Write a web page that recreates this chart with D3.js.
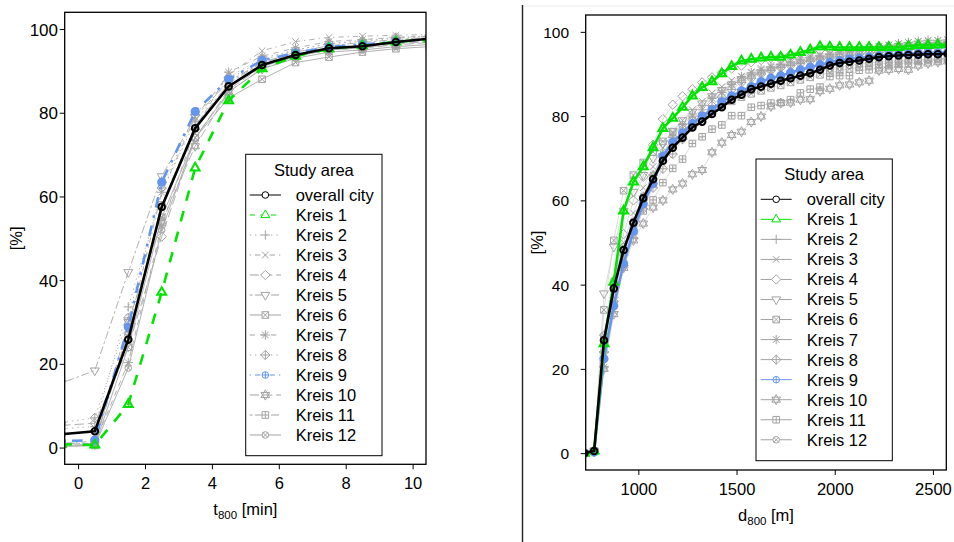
<!DOCTYPE html>
<html>
<head>
<meta charset="utf-8">
<script src="https://cdn.jsdelivr.net/npm/d3@7"></script>
<style>
  body { margin: 0; background: #fff; }
  svg { display: block; font-family: "Liberation Sans", Arial, Helvetica, sans-serif; }
</style>
</head>
<body>
<svg id="chart" width="954" height="542"></svg>
<script>
// ---- Series names (legend order) ----
const seriesNames = ["overall city", "Kreis 1", "Kreis 2", "Kreis 3", "Kreis 4", "Kreis 5",
  "Kreis 6", "Kreis 7", "Kreis 8", "Kreis 9", "Kreis 10", "Kreis 11", "Kreis 12"];

// ---- Left panel: share [%] by travel time t800 [min] ----
const travelTimes = [-0.5, 0.5, 1.5, 2.5, 3.5, 4.5, 5.5, 6.5, 7.5, 8.5, 9.5, 10.5];
const timeOverall = [3.2, 3.9, 25.8, 57.5, 76.3, 86.3, 91.4, 93.8, 95.4, 95.9, 96.9, 97.7];
const timeKreis1  = [0.8, 0.6, 10.3, 37.1, 66.8, 82.9, 90.5, 93.5, 95.3, 96.0, 96.9, 97.6];
const timeKreis2  = [4.5, 5.0, 33.6, 61.0, 78.0, 88.0, 92.5, 95.0, 96.5, 97.3, 98.0, 98.3];
const timeKreis3  = [1.0, 1.5, 28.0, 61.0, 79.0, 89.0, 94.8, 97.0, 98.0, 98.3, 98.5, 98.7];
const timeKreis4  = [5.3, 5.8, 24.0, 50.4, 74.0, 85.5, 91.0, 93.5, 95.0, 95.5, 96.5, 97.0];
const timeKreis5  = [15.4, 18.4, 41.9, 64.8, 79.0, 87.5, 92.0, 94.5, 96.0, 96.8, 97.5, 98.0];
const timeKreis6  = [0.3, 0.5, 24.0, 55.0, 74.0, 83.5, 88.0, 92.0, 93.3, 94.5, 95.3, 95.8];
const timeKreis7  = [0.8, 1.0, 20.3, 53.0, 76.0, 89.7, 93.5, 95.5, 97.0, 97.5, 98.0, 98.3];
const timeKreis8  = [6.0, 7.1, 31.0, 62.0, 79.5, 88.5, 93.0, 95.0, 96.5, 97.0, 97.8, 98.2];
const timeKreis9  = [1.5, 1.8, 28.8, 63.4, 80.3, 88.0, 92.5, 94.3, 95.7, 96.3, 97.0, 97.5];
const timeKreis10 = [0.5, 0.8, 30.0, 54.0, 72.0, 85.0, 90.5, 93.5, 95.0, 95.5, 96.2, 96.8];
const timeKreis11 = [1.0, 1.0, 27.0, 58.0, 77.0, 87.0, 92.0, 94.0, 95.3, 96.0, 96.8, 97.3];
const timeKreis12 = [0.3, 0.5, 19.0, 52.0, 74.0, 85.0, 90.5, 93.0, 94.5, 95.0, 95.8, 96.3];

// ---- Right panel: share [%] by distance d800 [m] ----
const distances = [725, 775, 825, 875, 925, 975, 1025, 1075, 1125, 1175, 1225, 1275, 1325,
  1375, 1425, 1475, 1525, 1575, 1625, 1675, 1725, 1775, 1825, 1875, 1925, 1975, 2025,
  2075, 2125, 2175, 2225, 2275, 2325, 2375, 2425, 2475, 2525, 2575];
const distOverall = [0, 0.5, 26.8, 39.1, 48.2, 54.7, 60.5, 65.0, 69.4, 72.5, 74.9, 77.3, 78.7,
  80.5, 82.1, 83.9, 85.1, 86.4, 87.0, 87.7, 88.4, 89.0, 89.6, 90.2, 91.0, 92.0, 92.6,
  92.9, 93.2, 93.6, 94.0, 94.2, 94.4, 94.5, 94.6, 94.7, 94.7, 94.8];
const distKreis1 = [0, 0.5, 26.0, 40.6, 57.5, 64.4, 68.0, 72.5, 77.1, 79.5, 82.1, 84.8, 86.8,
  88.2, 90.1, 91.8, 93.1, 93.5, 93.8, 94.0, 94.0, 94.5, 95.1, 95.7, 96.5, 96.4, 96.3,
  96.3, 96.3, 96.3, 96.3, 96.3, 96.3, 96.6, 96.8, 96.8, 96.9, 97.0];
const distKreis2 = [0, 0.4, 24, 37, 47, 55, 61, 66, 71, 75, 78, 80.5, 82.5,
  84.5, 86, 87.5, 88.5, 89.5, 90.3, 91, 91.7, 92.3, 92.8, 93.3, 93.8, 94.2, 94.6,
  95, 95.3, 95.6, 95.9, 96.2, 96.5, 96.8, 97, 97.2, 97.3, 97.4];
const distKreis3 = [0, 0.5, 27, 40, 50, 57, 63, 68, 72.5, 76, 79, 81.5, 83.5,
  85.5, 87, 88.5, 89.5, 90.5, 91.3, 92, 92.6, 93.2, 93.7, 94.2, 94.6, 95, 95.3,
  95.6, 95.9, 96.2, 96.6, 96.9, 97.2, 97.5, 97.7, 97.8, 97.9, 98];
const distKreis4 = [0, 0.5, 28, 40, 52, 60, 65.6, 73.2, 79.3, 82.7, 84.7, 86.4, 88,
  89.2, 90.3, 91.3, 92, 92.8, 93.3, 93.8, 94.2, 94.6, 95, 95.3, 95.6, 95.8, 96,
  96.2, 96.3, 96.4, 96.5, 96.6, 96.7, 96.8, 96.9, 97, 97, 97.1];
const distKreis5 = [0, 0.5, 37.9, 49, 57.5, 62, 66, 70, 73.5, 76.5, 79, 81, 83,
  84.7, 86.2, 87.5, 88.5, 89.4, 90.2, 91, 91.7, 92.3, 92.9, 93.4, 93.8, 94.2, 94.6,
  95, 95.3, 95.6, 95.9, 96.1, 96.3, 96.5, 96.7, 96.9, 97, 97.1];
const distKreis6 = [0, 0.5, 34, 50.5, 62.3, 66, 69, 71.5, 74, 76.2, 77.5, 79, 80,
  81.5, 82.5, 83.5, 84.5, 85.3, 86, 86.7, 87.3, 88, 88.6, 89.2, 89.8, 90.3, 90.8,
  91.2, 91.6, 92, 92.3, 92.6, 92.9, 93.1, 93.3, 93.5, 93.6, 93.7];
const distKreis7 = [0, 0.3, 20.4, 33.6, 44, 52, 60, 66, 71, 75, 78, 80, 81.5,
  84.2, 85.6, 87.6, 89.4, 90.3, 91, 91.7, 92.3, 92.8, 93.3, 93.8, 94.2, 94.6, 95,
  95.3, 95.6, 96, 96.4, 96.8, 97.2, 97.5, 97.8, 98, 98, 98.1];
const distKreis8 = [0, 0.5, 24, 36, 44.5, 51, 58, 63, 67.5, 71, 74.5, 77.5, 80,
  82.5, 84.5, 86.3, 88, 89, 90, 90.8, 91.5, 92, 92.5, 93, 93.4, 93.8, 94.1,
  94.4, 94.7, 95, 95.2, 95.4, 95.6, 95.8, 96, 96.1, 96.2, 96.3];
const distKreis9 = [0, 0.3, 22.4, 35, 45, 52.7, 59.2, 64, 70.5, 73.8, 76, 78.2, 80,
  81.5, 83.4, 84.8, 86, 87, 88.2, 89, 89.6, 90.3, 91.0, 91.6, 92.2, 92.8, 93.2,
  93.6, 93.8, 94.0, 94.3, 94.5, 94.7, 94.8, 94.9, 95.0, 95.0, 95.1];
const distKreis10 = [0, 0.3, 20, 33, 44, 50.5, 54.5, 58.3, 60, 62.6, 64, 66.2, 67.2,
  71.4, 73.7, 75.5, 76.3, 78.6, 79.9, 82.3, 83.1, 83.2, 83.9, 84, 85.9, 86.5, 87.3,
  87.5, 88, 88.4, 90.8, 91, 91.2, 91, 92, 92.5, 92.8, 93];
const distKreis11 = [0, 0.5, 27, 39, 47.5, 53, 57.5, 60.1, 64.2, 67.6, 69.8, 73.5, 75.1,
  76.9, 77.9, 80.1, 80.1, 82.1, 82.5, 83.1, 83.2, 83.9, 85.5, 86.4, 86.9, 89.4, 89.6,
  89.6, 90.9, 91, 91.5, 92, 92.3, 92.6, 93, 93.2, 93.4, 93.5];
const distKreis12 = [0, 0.5, 28, 41, 49, 55, 61, 66, 70, 73, 75.5, 77.5, 79.5,
  81, 82.5, 84, 85, 86, 87, 87.8, 88.5, 89.2, 89.8, 90.3, 90.8, 91.2, 91.6,
  92, 92.3, 92.6, 92.8, 93, 93.2, 93.3, 93.4, 93.5, 93.6, 93.7];

// ---- Axis ticks ----
const timeTicks = [0, 2, 4, 6, 8, 10];
const distTicks = [1000, 1500, 2000, 2500];
const shareTicks = [0, 20, 40, 60, 80, 100];

const timeValues = [timeOverall, timeKreis1, timeKreis2, timeKreis3, timeKreis4, timeKreis5,
  timeKreis6, timeKreis7, timeKreis8, timeKreis9, timeKreis10, timeKreis11, timeKreis12];
const distValues = [distOverall, distKreis1, distKreis2, distKreis3, distKreis4, distKreis5,
  distKreis6, distKreis7, distKreis8, distKreis9, distKreis10, distKreis11, distKreis12];

// ---- Styling (R-like: pch 1..13, lty 1..6 cycling) ----
const GRAY = "#a3a3a3", GREEN = "#00e400", BLUE = "#6495ED", BLACK = "#000";
const colorOf = i => i === 0 ? BLACK : i === 1 ? GREEN : i === 9 ? BLUE : GRAY;
const isHeavy = i => i === 0 || i === 1 || i === 9;
const ltyPattern = [null, [4, 4], [1, 3], [1, 3, 4, 3], [7, 3], [2, 2, 6, 2]];

function dashFor(i, width) {
  const p = ltyPattern[i % 6];
  if (!p) return null;
  const k = Math.max(width, 1) * 1.33;
  return p.map(v => (v * k).toFixed(2)).join(",");
}

// Plotting symbols following R's pch 1..13
function pchPath(pch, r) {
  const circ = a => `M${-a},0A${a},${a} 0 1,1 ${a},0A${a},${a} 0 1,1 ${-a},0Z`;
  const plus = a => `M${-a},0H${a}M0,${-a}V${a}`;
  const cross = a => `M${-a},${-a}L${a},${a}M${-a},${a}L${a},${-a}`;
  const sq = a => `M${-a},${-a}H${a}V${a}H${-a}Z`;
  const dia = a => `M0,${-a}L${a},0L0,${a}L${-a},0Z`;
  const triUp = a => `M0,${-1.555 * a}L${1.347 * a},${0.778 * a}L${-1.347 * a},${0.778 * a}Z`;
  const triDn = a => `M0,${1.555 * a}L${1.347 * a},${-0.778 * a}L${-1.347 * a},${-0.778 * a}Z`;
  switch (pch) {
    case 1: return circ(r);
    case 2: return triUp(r);
    case 3: return plus(r * 1.414);
    case 4: return cross(r);
    case 5: return dia(r * 1.414);
    case 6: return triDn(r);
    case 7: return sq(r) + cross(r);
    case 8: return plus(r * 1.414) + cross(r);
    case 9: return dia(r * 1.414) + plus(r * 1.414);
    case 10: return circ(r) + plus(r);
    case 11: {
      const a = r * 1.1;
      return `M0,${-1.4 * a}L${1.2 * a},${0.7 * a}L${-1.2 * a},${0.7 * a}Z` +
             `M0,${1.4 * a}L${1.2 * a},${-0.7 * a}L${-1.2 * a},${-0.7 * a}Z`;
    }
    case 12: return sq(r) + plus(r);
    case 13: return circ(r) + cross(r * 0.75);
  }
}

const svg = d3.select("#chart");
svg.append("rect").attr("width", 954).attr("height", 542).attr("fill", "#fff");

// panel divider
svg.append("line").attr("x1", 523).attr("x2", 954).attr("y1", 6).attr("y2", 6)
  .attr("stroke", "#ececec").attr("stroke-width", 1);
svg.append("line").attr("x1", 522.5).attr("x2", 522.5).attr("y1", 5).attr("y2", 542)
  .attr("stroke", "#222").attr("stroke-width", 1.4);

function drawPanel(cfg) {
  const g = svg.append("g");
  const x = d3.scaleLinear().domain(cfg.xDomain).range([cfg.left, cfg.right]);
  const y = d3.scaleLinear().domain([-4, 104]).range([cfg.bottom, cfg.top]);

  const clipId = "clip-" + cfg.id;
  svg.append("clipPath").attr("id", clipId).append("rect")
    .attr("x", cfg.left).attr("y", cfg.top)
    .attr("width", cfg.right - cfg.left).attr("height", cfg.bottom - cfg.top);

  const plot = g.append("g").attr("clip-path", `url(#${clipId})`);
  const line = d3.line().x(d => x(d[0])).y(d => y(d[1]));

  // grays first, then blue, green, black on top
  const order = [2, 3, 4, 5, 6, 7, 8, 10, 11, 12, 9, 1, 0];
  order.forEach(i => {
    const pts = cfg.xs.map((xv, k) => [xv, cfg.values[i][k]]);
    const lw = isHeavy(i) ? 2.6 : cfg.grayLine.width;
    const sg = plot.append("g");
    sg.append("path").datum(pts)
      .attr("d", line)
      .attr("fill", "none")
      .attr("stroke", isHeavy(i) ? colorOf(i) : cfg.grayLine.color)
      .attr("stroke-width", lw)
      .attr("stroke-dasharray", cfg.dashed ? dashFor(i, isHeavy(i) ? 2 : 1) : null);
    const mw = i === 9 ? 2.6 : (isHeavy(i) ? 2 : 1);
    sg.selectAll("path.pt").data(pts).join("path")
      .attr("class", "pt")
      .attr("transform", d => `translate(${x(d[0])},${y(d[1])})`)
      .attr("d", pchPath(i + 1, 3.3))
      .attr("fill", "none")
      .attr("stroke", colorOf(i))
      .attr("stroke-width", mw);
  });

  // axes
  const xAxis = g.append("g").attr("transform", `translate(0,${cfg.bottom})`)
    .call(d3.axisBottom(x).tickValues(cfg.xTicks).tickSize(5).tickFormat(d3.format("d")));
  xAxis.select(".domain").remove();
  xAxis.selectAll("line").attr("stroke", "#000");
  xAxis.selectAll("text").attr("y", cfg.xLabelY).attr("dy", 0)
    .attr("font-size", 16.5).attr("fill", "#000").attr("font-family", null);

  const yAxis = g.append("g").attr("transform", `translate(${cfg.left},0)`)
    .call(d3.axisLeft(y).tickValues(shareTicks).tickSize(5).tickFormat(d3.format("d")));
  yAxis.select(".domain").remove();
  yAxis.selectAll("line").attr("stroke", "#000");
  yAxis.selectAll("text").attr("x", cfg.yLabelX - cfg.left).attr("dy", "0.36em")
    .attr("font-size", cfg.yLabelSize).attr("fill", "#000").attr("font-family", null);

  // frame
  g.append("rect").attr("x", cfg.left).attr("y", cfg.top)
    .attr("width", cfg.right - cfg.left).attr("height", cfg.bottom - cfg.top)
    .attr("fill", "none").attr("stroke", "#000").attr("stroke-width", 1.3);

  // axis titles
  const xt = g.append("text").attr("x", (cfg.left + cfg.right) / 2).attr("y", cfg.xTitleY)
    .attr("text-anchor", "middle").attr("font-size", 16.5);
  xt.append("tspan").text(cfg.xVar);
  xt.append("tspan").attr("font-size", 11.5).attr("dy", 4).text("800");
  xt.append("tspan").attr("dy", -4).text(" " + cfg.xUnit);

  g.append("text")
    .attr("transform", `translate(${cfg.yTitleX},${(cfg.top + cfg.bottom) / 2}) rotate(-90)`)
    .attr("text-anchor", "middle").attr("font-size", 16.5).text("[%]");

  // legend
  const L = cfg.legend;
  const lg = g.append("g");
  lg.append("rect").attr("x", L.x0).attr("y", L.y0).attr("width", L.x1 - L.x0)
    .attr("height", L.y1 - L.y0).attr("fill", "#fff").attr("stroke", "#000").attr("stroke-width", 1);
  lg.append("text").attr("x", (L.x0 + L.x1) / 2).attr("y", L.titleY).attr("dy", "0.36em")
    .attr("text-anchor", "middle").attr("font-size", 16.5).text("Study area");
  seriesNames.forEach((name, i) => {
    const yy = L.rowY + i * L.step;
    lg.append("line").attr("x1", L.lineX0).attr("x2", L.lineX1).attr("y1", yy).attr("y2", yy)
      .attr("stroke", colorOf(i)).attr("stroke-width", 1)
      .attr("stroke-dasharray", cfg.dashed ? dashFor(i, 1) : null);
    lg.append("path").attr("transform", `translate(${(L.lineX0 + L.lineX1) / 2},${yy})`)
      .attr("d", pchPath(i + 1, 3.3)).attr("fill", "#fff")
      .attr("stroke", colorOf(i)).attr("stroke-width", 1);
    lg.append("text").attr("x", L.textX).attr("y", yy).attr("dy", "0.36em")
      .attr("font-size", 16.5).text(name);
  });
}

drawPanel({
  id: "time", left: 64.7, right: 426, top: 12.3, bottom: 464.3,
  xDomain: [-0.4, 10.4], xs: travelTimes, values: timeValues, xTicks: timeTicks,
  dashed: true, grayLine: { color: "#a8a8a8", width: 0.9 },
  xLabelY: 25, yLabelX: 58, yLabelSize: 17,
  xTitleY: 515, yTitleX: 22, xVar: "t", xUnit: "[min]",
  legend: { x0: 245.7, x1: 382, y0: 154.3, y1: 455.7, titleY: 170, rowY: 195, step: 20,
            lineX0: 249.7, lineX1: 281, textX: 295.7 }
});

drawPanel({
  id: "dist", left: 585.7, right: 946.3, top: 15, bottom: 470,
  xDomain: [732, 2568], xs: distances, values: distValues, xTicks: distTicks,
  dashed: false, grayLine: { color: "#cdcdcd", width: 0.7 },
  xLabelY: 25.2, yLabelX: 569, yLabelSize: 15.5,
  xTitleY: 520.5, yTitleX: 542.6, xVar: "d", xUnit: "[m]",
  legend: { x0: 756, x1: 892.3, y0: 159, y1: 460.7, titleY: 174, rowY: 199.3, step: 20.04,
            lineX0: 760.7, lineX1: 791.7, textX: 806.7 }
});
</script>
</body>
</html>
